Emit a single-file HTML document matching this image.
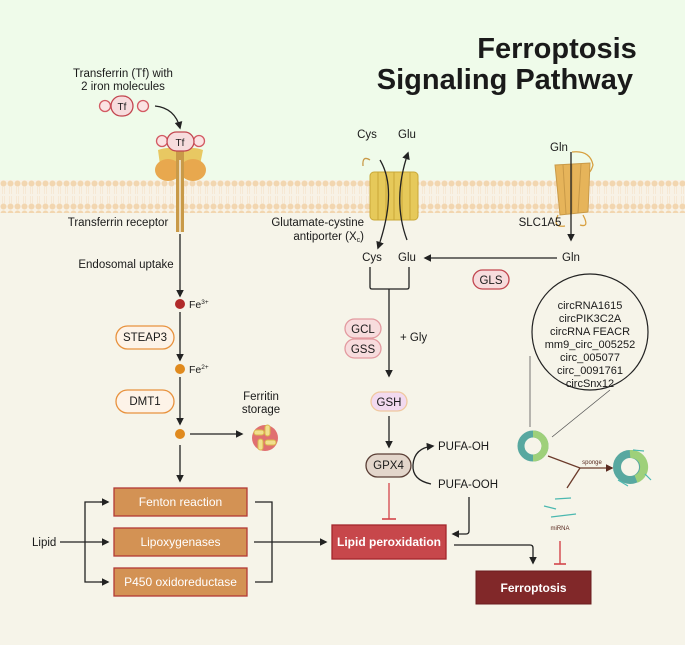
<!DOCTYPE html>
<html><head><meta charset="utf-8"><style>
html,body{margin:0;padding:0;width:685px;height:645px;overflow:hidden;background:#f6f4e9}
svg text{font-family:"Liberation Sans",sans-serif;fill:#1a1a1a}
</style></head><body>
<svg width="685" height="645" viewBox="0 0 685 645" xmlns="http://www.w3.org/2000/svg">
<defs>
<marker id="a" viewBox="0 0 10 10" refX="8" refY="5" markerWidth="6" markerHeight="6" orient="auto"><path d="M0,0L10,5L0,10z" fill="#222"/></marker>
<marker id="b" viewBox="0 0 10 10" refX="8" refY="5" markerWidth="6" markerHeight="6" orient="auto"><path d="M0,0L10,5L0,10z" fill="#5a2a20"/></marker>
<pattern id="beads" width="7" height="30" patternUnits="userSpaceOnUse"><circle cx="3.5" cy="3.5" r="3" fill="#f2d6b0"/><circle cx="3.5" cy="26.5" r="3" fill="#f2d6b0"/><line x1="2.5" y1="6" x2="2.5" y2="14" stroke="#f5e4cc" stroke-width="0.7"/><line x1="4.5" y1="6" x2="4.5" y2="14" stroke="#f5e4cc" stroke-width="0.7"/><line x1="2.5" y1="16" x2="2.5" y2="24" stroke="#f5e4cc" stroke-width="0.7"/><line x1="4.5" y1="16" x2="4.5" y2="24" stroke="#f5e4cc" stroke-width="0.7"/></pattern>
</defs>
<rect x="0" y="0" width="685" height="195" fill="#effbea"/>
<rect x="0" y="180" width="685" height="33" fill="#f8f2e6"/>
<rect x="0" y="180" width="685" height="33" fill="url(#beads)"/>

<text x="557" y="58" font-size="29" font-weight="bold" text-anchor="middle">Ferroptosis</text>
<text x="633" y="89" font-size="29" font-weight="bold" text-anchor="end">Signaling Pathway</text>

<!-- Transferrin -->
<text x="123" y="77" font-size="11.5" text-anchor="middle">Transferrin (Tf) with</text>
<text x="123" y="90" font-size="11.5" text-anchor="middle">2 iron molecules</text>
<circle cx="105" cy="106" r="5.5" fill="#fbe3e3" stroke="#d35a63" stroke-width="1.3"/>
<circle cx="143" cy="106" r="5.5" fill="#fbe3e3" stroke="#d35a63" stroke-width="1.3"/>
<rect x="111" y="96" width="22" height="20" rx="10" fill="#f7dcdd" stroke="#c2464f" stroke-width="1.3"/>
<text x="122" y="110" font-size="10" text-anchor="middle">Tf</text>
<path d="M155,106 Q175,108 180,128" fill="none" stroke="#222" stroke-width="1.3" marker-end="url(#a)"/>
<path d="M158,150 Q170,146 176,150 L184,150 Q192,146 203,150 L200,165 L160,165z" fill="#e8c862"/>
<ellipse cx="168" cy="170" rx="13" ry="11" fill="#e8a84e"/>
<ellipse cx="193" cy="170" rx="13" ry="11" fill="#e8a84e"/>
<rect x="176" y="148" width="8" height="84" fill="#c99a48"/>
<line x1="180" y1="160" x2="180" y2="232" stroke="#f6f0e0" stroke-width="1.5"/>
<circle cx="162" cy="141" r="5.5" fill="#fbe3e3" stroke="#d35a63" stroke-width="1.3"/>
<circle cx="199" cy="141" r="5.5" fill="#fbe3e3" stroke="#d35a63" stroke-width="1.3"/>
<rect x="167" y="132" width="27" height="19" rx="9.5" fill="#f7dcdd" stroke="#c2464f" stroke-width="1.3"/>
<text x="180" y="146" font-size="10" text-anchor="middle">Tf</text>
<text x="118" y="226" font-size="11.5" text-anchor="middle">Transferrin receptor</text>
<text x="126" y="268" font-size="11.5" text-anchor="middle">Endosomal uptake</text>
<line x1="180" y1="234" x2="180" y2="296" stroke="#222" stroke-width="1.3" marker-end="url(#a)"/>

<circle cx="180" cy="304" r="5" fill="#b02a2a"/>
<text x="189" y="308" font-size="10.5">Fe<tspan font-size="6.5" dy="-4">3+</tspan></text>
<rect x="116" y="326" width="58" height="23" rx="11.5" fill="#fdf3e8" stroke="#e8923e" stroke-width="1.3"/>
<text x="145" y="341" font-size="11.5" text-anchor="middle">STEAP3</text>
<line x1="180" y1="312" x2="180" y2="360" stroke="#222" stroke-width="1.3" marker-end="url(#a)"/>
<circle cx="180" cy="369" r="5" fill="#e08a1e"/>
<text x="189" y="373" font-size="10.5">Fe<tspan font-size="6.5" dy="-4">2+</tspan></text>
<rect x="116" y="390" width="58" height="23" rx="11.5" fill="#fdf3e8" stroke="#e8923e" stroke-width="1.3"/>
<text x="145" y="405" font-size="11.5" text-anchor="middle">DMT1</text>
<line x1="180" y1="377" x2="180" y2="424" stroke="#222" stroke-width="1.3" marker-end="url(#a)"/>
<circle cx="180" cy="434" r="5" fill="#e08a1e"/>
<line x1="190" y1="434" x2="242" y2="434" stroke="#222" stroke-width="1.3" marker-end="url(#a)"/>
<text x="261" y="400" font-size="11.5" text-anchor="middle">Ferritin</text>
<text x="261" y="413" font-size="11.5" text-anchor="middle">storage</text>
<circle cx="265" cy="438" r="13" fill="#e07070"/>
<rect x="254" y="430" width="10" height="5" rx="2.5" fill="#f1df8e" stroke="#d9b84a"/>
<rect x="265" y="440" width="11" height="5" rx="2.5" fill="#f1df8e" stroke="#d9b84a"/>
<rect x="265" y="425" width="5" height="11" rx="2.5" fill="#f1df8e" stroke="#d9b84a"/>
<rect x="258" y="439" width="5" height="11" rx="2.5" fill="#f1df8e" stroke="#d9b84a"/>
<line x1="180" y1="445" x2="180" y2="481" stroke="#222" stroke-width="1.3" marker-end="url(#a)"/>

<!-- boxes -->
<g font-size="12" text-anchor="middle">
<rect x="114" y="488" width="133" height="28" fill="#d39254" stroke="#b33a35" stroke-width="1.3"/>
<text x="180.5" y="506" style="fill:#fff">Fenton reaction</text>
<rect x="114" y="528" width="133" height="28" fill="#d39254" stroke="#b33a35" stroke-width="1.3"/>
<text x="180.5" y="546" style="fill:#fff">Lipoxygenases</text>
<rect x="114" y="568" width="133" height="28" fill="#d39254" stroke="#b33a35" stroke-width="1.3"/>
<text x="180.5" y="586" style="fill:#fff">P450 oxidoreductase</text>
</g>
<text x="32" y="546" font-size="11.5">Lipid</text>
<line x1="60" y1="542" x2="108" y2="542" stroke="#222" stroke-width="1.3" marker-end="url(#a)"/>
<path d="M108,502 L85,502 L85,582 L108,582" fill="none" stroke="#222" stroke-width="1.3"/>
<line x1="100" y1="502" x2="108" y2="502" stroke="#222" stroke-width="1.3" marker-end="url(#a)"/>
<line x1="100" y1="582" x2="108" y2="582" stroke="#222" stroke-width="1.3" marker-end="url(#a)"/>
<path d="M255,502 L272,502 L272,582 L255,582" fill="none" stroke="#222" stroke-width="1.3"/>
<line x1="254" y1="542" x2="326" y2="542" stroke="#222" stroke-width="1.3" marker-end="url(#a)"/>
<rect x="332" y="525" width="114" height="34" fill="#c7474b" stroke="#a3262c" stroke-width="1.3"/>
<text x="389" y="546" font-size="12" font-weight="bold" text-anchor="middle" style="fill:#fff">Lipid peroxidation</text>

<!-- Xc transporter -->
<text x="367" y="138" font-size="11.5" text-anchor="middle">Cys</text>
<text x="407" y="138" font-size="11.5" text-anchor="middle">Glu</text>
<path d="M363,166 Q362,155 370,160" fill="none" stroke="#c99a48" stroke-width="1.3"/>
<rect x="370" y="172" width="48" height="48" rx="4" fill="#e6c95a" stroke="#c9a838"/>
<g stroke="#c9a838" stroke-width="1"><line x1="378" y1="172" x2="378" y2="220"/><line x1="386" y1="172" x2="386" y2="220"/><line x1="394" y1="172" x2="394" y2="220"/><line x1="402" y1="172" x2="402" y2="220"/><line x1="410" y1="172" x2="410" y2="220"/></g>
<path d="M380,160 Q398,190 378,248" fill="none" stroke="#222" stroke-width="1.3" marker-end="url(#a)"/>
<path d="M407,240 Q392,200 408,153" fill="none" stroke="#222" stroke-width="1.3" marker-end="url(#a)"/>
<text x="364" y="226" font-size="11.5" text-anchor="end">Glutamate-cystine</text>
<text x="364" y="240" font-size="11.5" text-anchor="end">antiporter (X<tspan font-size="7" dy="2">c</tspan><tspan dy="-2">)</tspan></text>
<text x="372" y="261" font-size="11.5" text-anchor="middle">Cys</text>
<text x="407" y="261" font-size="11.5" text-anchor="middle">Glu</text>
<path d="M370,267 L370,287 Q370,289 372,289 L407,289 Q409,289 409,287 L409,267" fill="none" stroke="#222" stroke-width="1.3"/>
<line x1="389" y1="289" x2="389" y2="376" stroke="#222" stroke-width="1.3" marker-end="url(#a)"/>

<!-- SLC1A5 -->
<text x="559" y="151" font-size="11.5" text-anchor="middle">Gln</text>
<path d="M572,152 Q590,150 593,165 Q590,175 588,170" fill="none" stroke="#d8a040" stroke-width="1.3"/>
<path d="M558,215 Q552,228 565,226 M583,215 Q590,228 580,225" fill="none" stroke="#d8a040" stroke-width="1.3"/>
<polygon points="555,165 590,163 588,212 560,215" fill="#e6b45a" stroke="#c99a48"/>
<g stroke="#c99a48"><line x1="563" y1="165" x2="566" y2="214"/><line x1="572" y1="164" x2="572" y2="213"/><line x1="581" y1="164" x2="578" y2="213"/></g>
<line x1="571" y1="152" x2="571" y2="240" stroke="#222" stroke-width="1.3" marker-end="url(#a)"/>
<text x="540" y="226" font-size="11.5" text-anchor="middle">SLC1A5</text>
<text x="571" y="261" font-size="11.5" text-anchor="middle">Gln</text>
<line x1="557" y1="258" x2="425" y2="258" stroke="#222" stroke-width="1.3" marker-end="url(#a)"/>
<rect x="473" y="270" width="36" height="19" rx="9.5" fill="#f7dcdd" stroke="#c2464f" stroke-width="1.3"/>
<text x="491" y="284" font-size="11.5" text-anchor="middle">GLS</text>

<!-- GSH pathway -->
<rect x="345" y="319" width="36" height="19" rx="9.5" fill="#f7dcdd" stroke="#e39aa0" stroke-width="1.3"/>
<text x="363" y="333" font-size="11.5" text-anchor="middle">GCL</text>
<rect x="345" y="339" width="36" height="19" rx="9.5" fill="#f7dcdd" stroke="#e39aa0" stroke-width="1.3"/>
<text x="363" y="353" font-size="11.5" text-anchor="middle">GSS</text>
<text x="400" y="341" font-size="11.5">+ Gly</text>
<rect x="371" y="392" width="36" height="19" rx="9.5" fill="#f2daf0" stroke="#f0c8a0" stroke-width="1.3"/>
<text x="389" y="406" font-size="11.5" text-anchor="middle">GSH</text>
<line x1="389" y1="416" x2="389" y2="447" stroke="#222" stroke-width="1.3" marker-end="url(#a)"/>
<rect x="366" y="454" width="45" height="23" rx="11.5" fill="#e3d6cb" stroke="#5a3e35" stroke-width="1.3"/>
<text x="388.5" y="469" font-size="11.5" text-anchor="middle">GPX4</text>
<path d="M431,484 Q412,480 413,465 Q414,448 433,446" fill="none" stroke="#222" stroke-width="1.3" marker-end="url(#a)"/>
<text x="438" y="450" font-size="11.5">PUFA-OH</text>
<text x="438" y="488" font-size="11.5">PUFA-OOH</text>
<line x1="389" y1="483" x2="389" y2="519" stroke="#d4454b" stroke-width="1.3"/>
<line x1="382" y1="519" x2="396" y2="519" stroke="#d4454b" stroke-width="1.6"/>
<path d="M469,497 L469,531 Q469,534 466,534 L453,534" fill="none" stroke="#222" stroke-width="1.3" marker-end="url(#a)"/>
<path d="M454,545 L530,545 Q533,545 533,548 L533,563" fill="none" stroke="#222" stroke-width="1.3" marker-end="url(#a)"/>
<rect x="476" y="571" width="115" height="33" fill="#812829" stroke="#6a1c1e"/>
<text x="533.5" y="592" font-size="12" font-weight="bold" text-anchor="middle" style="fill:#fff">Ferroptosis</text>

<!-- circRNA -->
<circle cx="590" cy="332" r="58" fill="#f6f4e9" stroke="#222" stroke-width="1.2"/>
<g font-size="11" text-anchor="middle">
<text x="590" y="309">circRNA1615</text>
<text x="590" y="322">circPIK3C2A</text>
<text x="590" y="335">circRNA FEACR</text>
<text x="590" y="348">mm9_circ_005252</text>
<text x="590" y="361">circ_005077</text>
<text x="590" y="374">circ_0091761</text>
<text x="590" y="387">circSnx12</text>
</g>
<line x1="530" y1="356" x2="530" y2="427" stroke="#555" stroke-width="0.8"/>
<line x1="552" y1="437" x2="610" y2="390" stroke="#555" stroke-width="0.8"/>
<circle cx="533" cy="446" r="12" fill="none" stroke="#58a8a0" stroke-width="7"/>
<path d="M533,434 A12,12 0 0 1 533,458" fill="none" stroke="#9ed07a" stroke-width="7"/>
<path d="M548,456 L580,468 L612,468" fill="none" stroke="#6b3a2a" stroke-width="1.3" marker-end="url(#b)"/>
<line x1="580" y1="468" x2="567" y2="488" stroke="#6b3a2a" stroke-width="1.3"/>
<text x="592" y="464" font-size="6" text-anchor="middle" style="fill:#5a2a20">sponge</text>
<circle cx="630" cy="467" r="13" fill="none" stroke="#58a8a0" stroke-width="8"/>
<path d="M630,454 A13,13 0 0 1 636,479" fill="none" stroke="#9ed07a" stroke-width="8"/>
<g stroke="#4bb8b0" stroke-width="1.2"><line x1="555" y1="499" x2="571" y2="498"/><line x1="544" y1="506" x2="556" y2="509"/><line x1="551" y1="517" x2="576" y2="514"/><line x1="633" y1="450" x2="644" y2="451"/><line x1="645" y1="474" x2="651" y2="480"/><line x1="618" y1="480" x2="628" y2="486"/></g>
<text x="560" y="530" font-size="6" text-anchor="middle" style="fill:#5a2a20">miRNA</text>
<line x1="560" y1="541" x2="560" y2="564" stroke="#d4454b" stroke-width="1.4"/>
<line x1="554" y1="564" x2="566" y2="564" stroke="#d4454b" stroke-width="1.6"/>
</svg>
</body></html>
